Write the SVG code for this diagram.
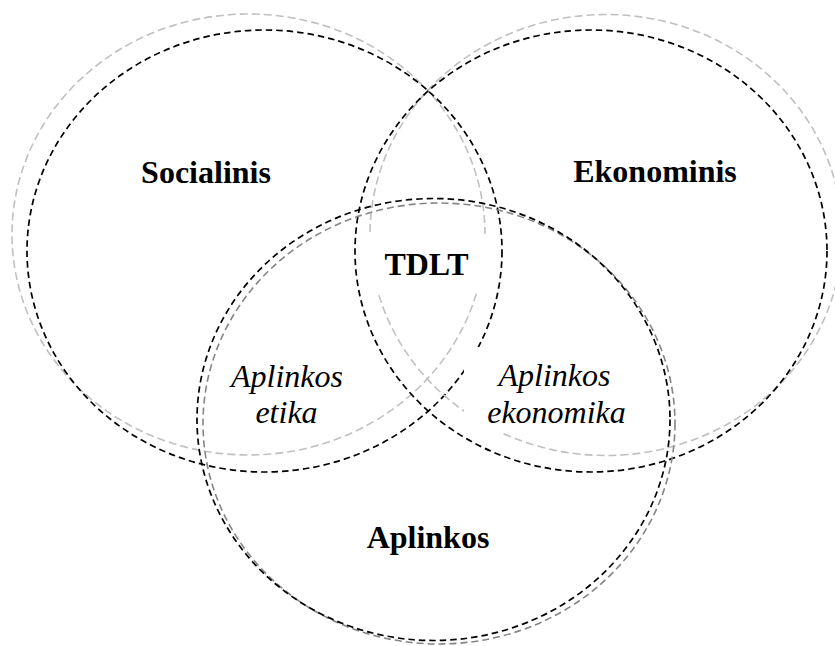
<svg xmlns="http://www.w3.org/2000/svg" width="835" height="646" viewBox="0 0 835 646">
<style>
.lg{fill:none;stroke:#c0c0c0;stroke-width:1.6;stroke-dasharray:8 4}
.mg{fill:none;stroke:#858585;stroke-width:1.6;stroke-dasharray:7 4}
.bk{fill:none;stroke:#000;stroke-width:1.7;stroke-dasharray:6.5 4}
.mask{fill:#fff;stroke:none}
text{font-family:'Liberation Serif','Times New Roman',Times,'DejaVu Serif',serif;font-size:32px;text-anchor:middle;fill:#000}
.b{font-weight:bold}
.i{font-style:italic}
</style>
<rect width="835" height="646" fill="#fff"/>
<g id="circles">
<g id="socialinis-circle">
<ellipse class="lg" cx="248.5" cy="234.5" rx="236.5" ry="220.5"/>
<ellipse class="bk" cx="264.5" cy="251" rx="237.5" ry="221"/>
</g>
<g id="ekonominis-circle">
<ellipse class="lg" cx="606" cy="235" rx="236" ry="220.5"/>
<ellipse class="bk" cx="591" cy="251" rx="236" ry="221"/>
</g>
<g id="aplinkos-circle">
<ellipse class="mg" cx="439" cy="423.5" rx="236" ry="220.5"/>
<ellipse class="bk" cx="433.5" cy="419.5" rx="236.5" ry="221"/>
</g>
</g>
<g id="text-backgrounds">
<rect class="mask" x="365" y="234" width="125" height="58"/>
<rect class="mask" x="464" y="347" width="185" height="86"/>
</g>
<g id="labels">
<g id="socialinis"><text class="b" x="206" y="183">Socialinis</text></g>
<g id="ekonominis"><text class="b" x="655" y="182">Ekonominis</text></g>
<g id="tdlt"><text class="b" x="426.5" y="275">TDLT</text></g>
<g id="aplinkos"><text class="b" x="428" y="548">Aplinkos</text></g>
<g id="aplinkos-etika"><text class="i" x="287" y="387">Aplinkos</text><text class="i" x="286.5" y="423">etika</text></g>
<g id="aplinkos-ekonomika"><text class="i" x="554.5" y="386">Aplinkos</text><text class="i" x="556.5" y="423">ekonomika</text></g>
</g>
</svg>
